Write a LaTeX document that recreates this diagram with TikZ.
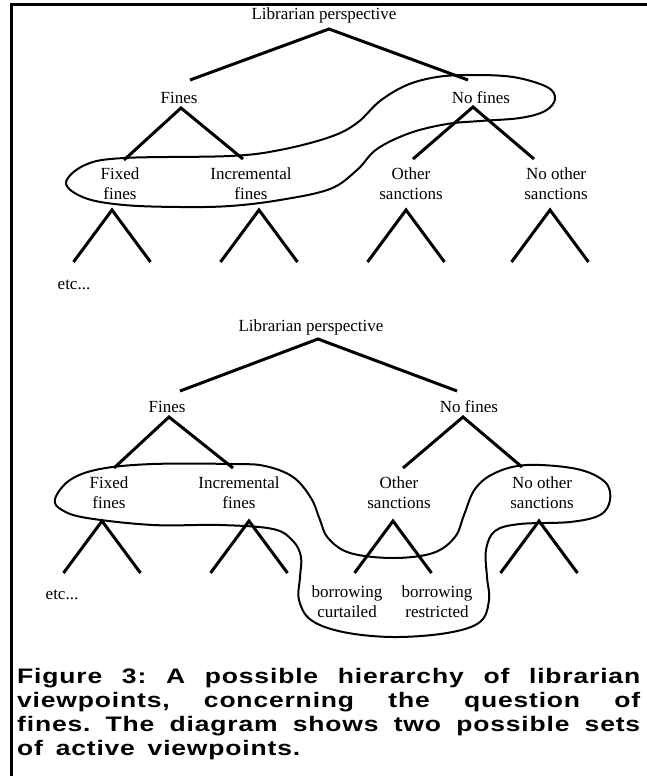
\documentclass[tikz,border=0pt]{standalone}
\usepackage{fontspec}
\setmainfont{Liberation Serif}
\newfontfamily\capfont[FakeStretch=1.26, LetterSpace=4]{Liberation Sans Bold}
\usepackage{tikz}

\newcommand{\capline}[1]{\makebox[623pt][s]{#1}}

\begin{document}
\frenchspacing
\begin{tikzpicture}[x=1pt,y=-1pt,
		branch/.style={line width=3pt},
		hull/.style={line width=2pt},
		lbl/.style={font=\fontsize{17}{20}\selectfont, align=center, inner sep=0pt},
		caption/.style={font=\capfont\fontsize{21}{24}\selectfont, anchor=base west, inner sep=0pt}]
		\useasboundingbox (0,0) rectangle (647,776);
		\draw[line width=3pt] (647,5) -- (11.5,5) -- (11.5,776);

		% upper tree
		\node[lbl] (t-root) at (324,15) {Librarian perspective};
		\node[lbl] (t-fines) at (179,98) {Fines};
		\node[lbl] (t-nofines) at (481,98) {No fines};
		\node[lbl] (t-fixed) at (120,184) {Fixed\\fines};
		\node[lbl] (t-incr) at (251,184) {Incremental\\fines};
		\node[lbl] (t-other) at (411,184) {Other\\sanctions};
		\node[lbl] (t-noother) at (556,184) {No other\\sanctions};
		\node[lbl] (t-etc) at (74,285) {etc...};
		\coordinate (t-a0) at (329,29);
		\coordinate (t-a1) at (181,108);
		\coordinate (t-a2) at (473,107);
		\draw[branch] (190,80) -- (t-a0) -- (468,80);
		\draw[branch] (124,160) -- (t-a1) -- (243,159);
		\draw[branch] (413,159) -- (t-a2) -- (534,159);
		\foreach \x in {112,259,406,550}
			\draw[branch] (\x-38.5,262) -- (\x,210) -- (\x+38.5,262);
		\draw[hull] plot[smooth cycle, tension=0.6] coordinates {(66,183) (85,165) (124,158) (230,156)
			(280,150) (330,137) (357,123) (380,101) (407,85) (437,77) (470,75) (513,77) (547,87)
			(555,99) (545,111) (520,118) (480,121) (447,124) (410,133) (377,149) (357,170)
			(330,189) (280,200) (230,206) (180,207) (124,205) (85,198)};

		% lower tree
		\node[lbl] (b-root) at (311,327) {Librarian perspective};
		\node[lbl] (b-fines) at (167,407) {Fines};
		\node[lbl] (b-nofines) at (469,407) {No fines};
		\node[lbl] (b-fixed) at (109,493) {Fixed\\fines};
		\node[lbl] (b-incr) at (239,493) {Incremental\\fines};
		\node[lbl] (b-other) at (399,493) {Other\\sanctions};
		\node[lbl] (b-noother) at (542,493) {No other\\sanctions};
		\node[lbl] (b-etc) at (62,595) {etc...};
		\node[lbl] (b-curt) at (347,602) {borrowing\\curtailed};
		\node[lbl] (b-restr) at (437,602) {borrowing\\restricted};
		\coordinate (b-a0) at (318,339);
		\coordinate (b-a1) at (169,417);
		\coordinate (b-a2) at (463,417);
		\draw[branch] (180,391) -- (b-a0) -- (457,391);
		\draw[branch] (114,468) -- (b-a1) -- (233,468);
		\draw[branch] (403,468) -- (b-a2) -- (522,467);
		\foreach \x in {102,249,393,539}
			\draw[branch] (\x-38.5,573) -- (\x,521) -- (\x+38.5,573);
		\draw[hull] plot[smooth cycle, tension=0.6] coordinates {(55,499) (70,480) (100,469) (153,464)
			(233,464) (265,466) (293,477) (311,498) (320,520) (328,538) (350,553) (393,558)
			(433,553) (455,537) (464,515) (475,489) (495,473) (527,465) (577,469) (605,482)
			(610,500) (600,515) (570,522) (520,524) (495,531) (486,550) (487,577) (489,600)
			(480,622) (447,633) (393,637) (343,632) (311,620) (299,600) (300,577) (301,557)
			(293,541) (273,529) (220,525) (153,525) (87,518) (62,510)};

		% caption
		\node[caption] (cap1) at (17,683) {\capline{Figure 3: A possible hierarchy of librarian}};
		\node[caption] (cap2) at (17,707) {\capline{viewpoints, concerning the question of}};
		\node[caption] (cap3) at (17,731) {\capline{fines. The diagram shows two possible sets}};
		\node[caption] (cap4) at (17,755) {\makebox[283pt][s]{of active viewpoints.}};
\end{tikzpicture}
\end{document}
